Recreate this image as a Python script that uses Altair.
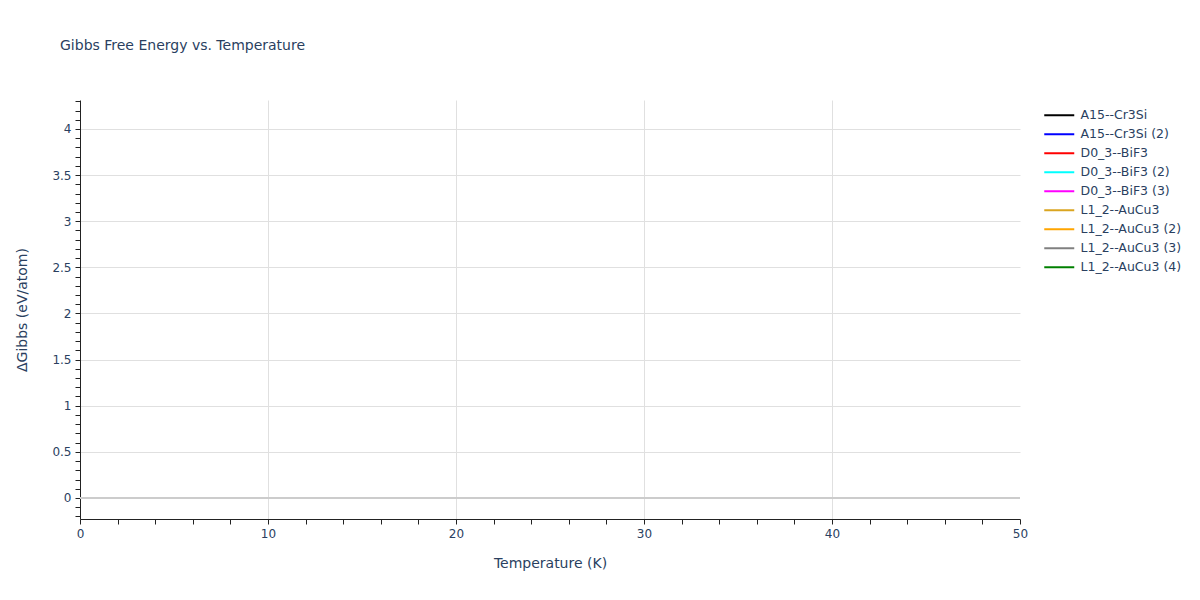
import altair as alt
import pandas as pd

# Series shown in the legend (no visible data points in the reference)
series = [
    "A15--Cr3Si", "A15--Cr3Si (2)", "D0_3--BiF3", "D0_3--BiF3 (2)",
    "D0_3--BiF3 (3)", "L1_2--AuCu3", "L1_2--AuCu3 (2)", "L1_2--AuCu3 (3)",
    "L1_2--AuCu3 (4)",
]
colors = ["black", "blue", "red", "cyan", "magenta", "goldenrod", "orange", "gray", "green"]
temperature = [None] * len(series)
gibbs = [None] * len(series)

x_ticks = [0, 2, 4, 6, 8, 10, 12, 14, 16, 18, 20, 22, 24, 26, 28, 30, 32, 34, 36, 38,
           40, 42, 44, 46, 48, 50]
y_ticks = [-0.2, -0.1, 0.0, 0.1, 0.2, 0.3, 0.4, 0.5, 0.6, 0.7, 0.8, 0.9, 1.0, 1.1, 1.2,
           1.3, 1.4, 1.5, 1.6, 1.7, 1.8, 1.9, 2.0, 2.1, 2.2, 2.3, 2.4, 2.5, 2.6, 2.7,
           2.8, 2.9, 3.0, 3.1, 3.2, 3.3, 3.4, 3.5, 3.6, 3.7, 3.8, 3.9, 4.0, 4.1, 4.2, 4.3]
x_domain = [0, 50]
y_domain = [-0.228, 4.314]
zero_level = [0]

df = pd.DataFrame({"T": temperature, "G": gibbs, "series": series})
df_zero = pd.DataFrame({"G": zero_level})

FONT = "DejaVu Sans"
TXT = "#2a3f5f"

y_major = "abs(round(datum.value*2) - datum.value*2) < 1e-6"
x_major = "datum.value % 10 == 0"

x_enc = alt.X(
    "T:Q",
    scale=alt.Scale(domain=x_domain, nice=False, zero=False),
    axis=alt.Axis(
        title="Temperature (K)",
        values=x_ticks,
        labelExpr=f"{x_major} ? datum.label : ''",
        labelOverlap=False,
        labelFlush=False,
        grid=True,
        gridColor="#e0e0e0",
        gridWidth=1,
        gridOpacity={"condition": {"test": f"{x_major} && datum.value > 0 && datum.value < 50", "value": 1}, "value": 0},
        tickColor="#222",
        tickSize=5,
        domainColor="#222",
        labelFont=FONT, labelFontSize=12, labelColor=TXT, labelPadding=4,
        titleFont=FONT, titleFontSize=14, titleColor=TXT, titleFontWeight="normal",
        titlePadding=17,
    ),
)
y_enc = alt.Y(
    "G:Q",
    scale=alt.Scale(domain=y_domain, nice=False, zero=False),
    axis=alt.Axis(
        title="ΔGibbs (eV/atom)",
        values=y_ticks,
        labelExpr=f"{y_major} ? format(datum.value, '~g') : ''",
        labelOverlap=False,
        labelFlush=False,
        grid=True,
        gridColor="#e0e0e0",
        gridWidth=1,
        gridOpacity={"condition": {"test": f"{y_major} && datum.value != 0", "value": 1}, "value": 0},
        tickColor="#222",
        tickSize=5,
        domainColor="#222",
        labelFont=FONT, labelFontSize=12, labelColor=TXT, labelPadding=4,
        titleFont=FONT, titleFontSize=14, titleColor=TXT, titleFontWeight="normal",
        titlePadding=22,
    ),
)

lines = alt.Chart(df).mark_line(strokeWidth=2).encode(
    x=x_enc,
    y=y_enc,
    color=alt.Color(
        "series:N",
        scale=alt.Scale(domain=series, range=colors),
        legend=alt.Legend(
            title=None,
            orient="none",
            legendX=973,
            legendY=9,
            symbolType="M-3,0L3,0",
            symbolSize=100,
            symbolStrokeWidth=2,
            labelFont=FONT,
            labelFontSize=12.5,
            labelColor=TXT,
            labelOffset=15,
            rowPadding=6,
        ),
    ),
)

zero_line = alt.Chart(df_zero).mark_rule(color="#cccccc", strokeWidth=2).encode(
    y=y_enc,
    x=alt.value(0), x2=alt.value(940),
)

chart = alt.layer(lines, zero_line).properties(
    width=940,
    height=419,
    background="white",
    title=alt.TitleParams(
        "Gibbs Free Energy vs. Temperature",
        font=FONT, fontSize=14, color=TXT, fontWeight="normal",
        anchor="start", frame="group", dx=-20, dy=-38,
    ),
    autosize=alt.AutoSizeParams(type="none"),
    padding={"left": 72, "top": 92, "right": 172, "bottom": 65},
).configure_view(stroke=None)

chart.save("out.html", embed_options={"renderer": "svg", "actions": False})
